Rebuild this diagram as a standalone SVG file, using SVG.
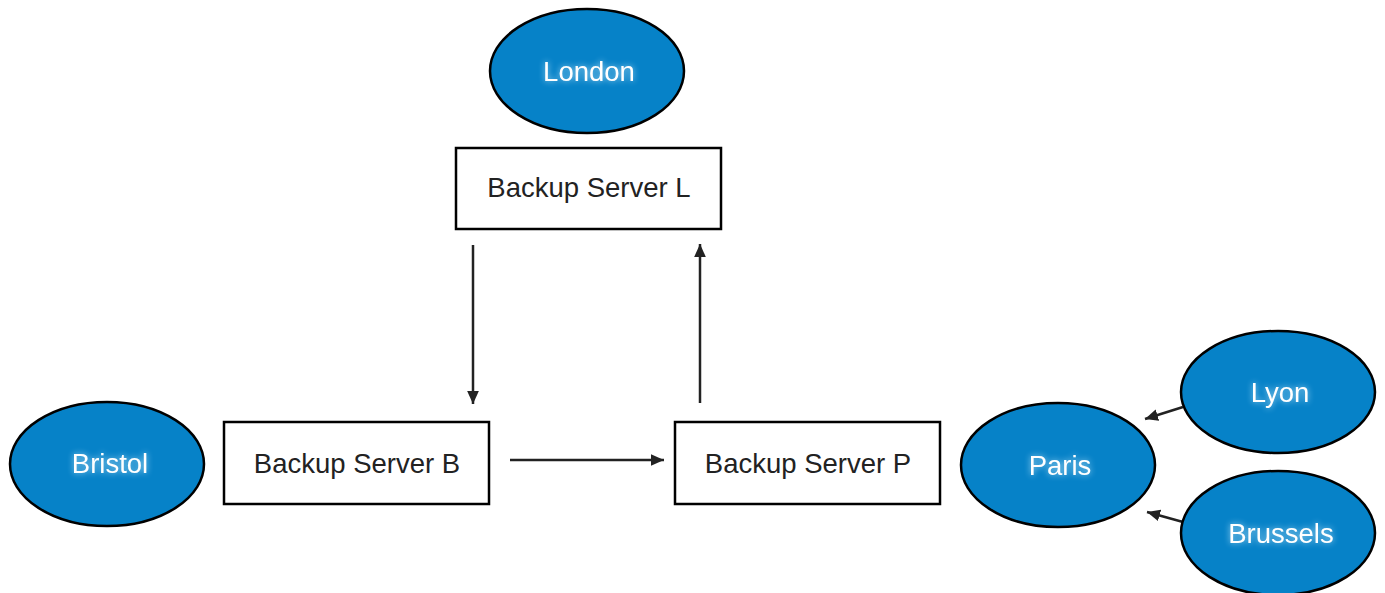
<svg xmlns="http://www.w3.org/2000/svg" width="1385" height="593" viewBox="0 0 1385 593">
<style>
.city{fill:#0682c8;stroke:#000;stroke-width:2.5}
.box{fill:#fff;stroke:#000;stroke-width:2.5}
.ct{font-family:"Liberation Sans",Arial,sans-serif;font-size:27.5px;fill:#fff;text-anchor:middle;filter:url(#glow)}
.bt{font-family:"Liberation Sans",Arial,sans-serif;font-size:27.5px;fill:#222;text-anchor:middle}
.edge{stroke:#222;stroke-width:2.5;fill:none;marker-end:url(#ah)}
</style>
<defs>
<marker id="ah" viewBox="0 0 10 10" refX="10" refY="5" markerWidth="13" markerHeight="13" markerUnits="userSpaceOnUse" orient="auto">
<path d="M0,0.5 L10,5 L0,9.5 z" fill="#222"/>
</marker>
<filter id="glow" x="-30%" y="-50%" width="160%" height="200%">
<feGaussianBlur in="SourceAlpha" stdDeviation="3" result="b"/>
<feFlood flood-color="#cfefff" flood-opacity="0.8"/>
<feComposite in2="b" operator="in" result="g"/>
<feMerge><feMergeNode in="g"/><feMergeNode in="SourceGraphic"/></feMerge>
</filter>
</defs>
<rect width="1385" height="593" fill="#fff"/>
<g id="connectors">
<line class="edge" x1="473" y1="245" x2="473" y2="404"/>
<line class="edge" x1="700" y1="403" x2="700" y2="244"/>
<line class="edge" x1="510" y1="460" x2="664" y2="460"/>
<line class="edge" x1="1183" y1="407" x2="1145" y2="419"/>
<line class="edge" x1="1183" y1="522" x2="1147" y2="512"/>
</g>
<g id="london"><ellipse class="city" cx="587" cy="71" rx="97" ry="62"/><text class="ct" x="589" y="81">London</text></g>
<g id="serverL"><rect class="box" x="456" y="148" width="265" height="81"/><text class="bt" x="589" y="197">Backup Server L</text></g>
<g id="bristol"><ellipse class="city" cx="107" cy="464" rx="97" ry="62"/><text class="ct" x="110" y="473">Bristol</text></g>
<g id="serverB"><rect class="box" x="224" y="422" width="265" height="82"/><text class="bt" x="357" y="473">Backup Server B</text></g>
<g id="serverP"><rect class="box" x="675" y="422" width="265" height="82"/><text class="bt" x="808" y="473">Backup Server P</text></g>
<g id="paris"><ellipse class="city" cx="1058" cy="465" rx="97" ry="62"/><text class="ct" x="1060" y="475">Paris</text></g>
<g id="lyon"><ellipse class="city" cx="1278" cy="392" rx="97" ry="61"/><text class="ct" x="1280" y="402">Lyon</text></g>
<g id="brussels"><ellipse class="city" cx="1278" cy="533" rx="97" ry="62"/><text class="ct" x="1281" y="543">Brussels</text></g>
</svg>
